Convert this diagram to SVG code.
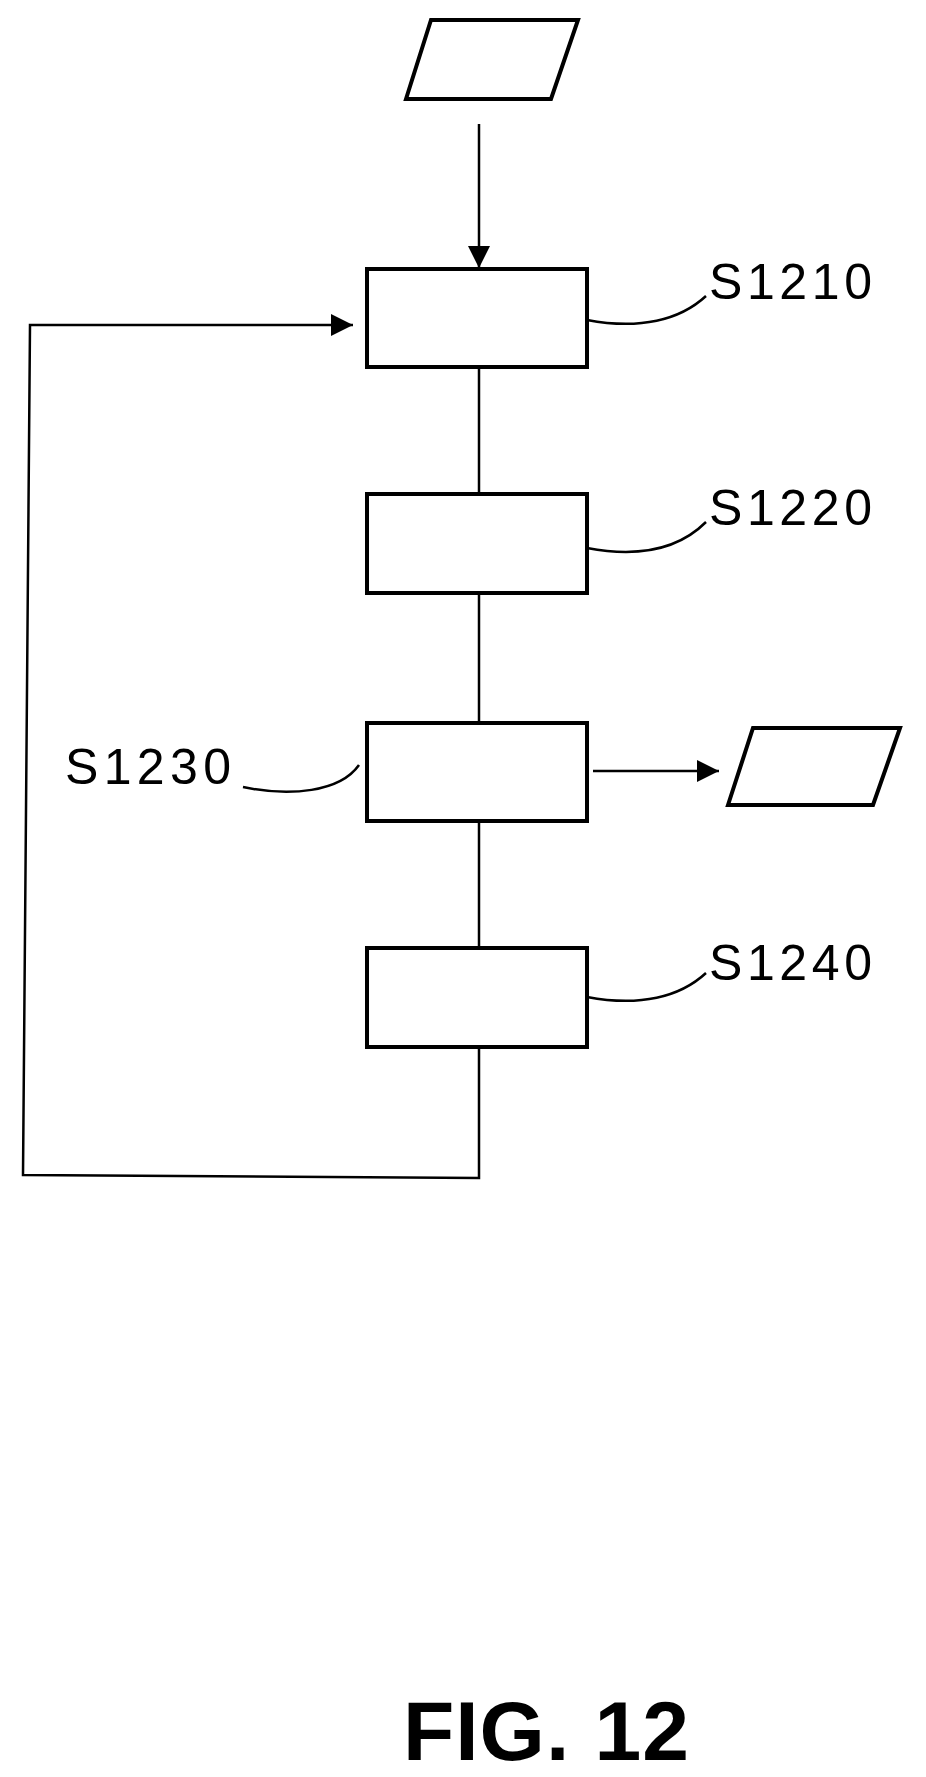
<svg xmlns="http://www.w3.org/2000/svg" width="926" height="1777" viewBox="0 0 926 1777">
<style>
.b{fill:#fff;stroke:#000;stroke-width:4}
.l{fill:none;stroke:#000;stroke-width:2.5}
.t{font-family:"Liberation Sans",Arial,sans-serif;font-size:50px;fill:#000}
</style>
<defs>
<marker id="A" viewBox="0 0 10 10" refX="10" refY="5" markerWidth="26" markerHeight="22" markerUnits="userSpaceOnUse" orient="auto"><path d="M0,0L10,5L0,10z"/></marker></defs>
<rect width="926" height="1777" fill="#fff"/>
<g id="connectors">
<line class="l" x1="479" y1="124" x2="479" y2="268" marker-end="url(#A)"/>
<line class="l" x1="479" y1="367" x2="479" y2="494"/>
<line class="l" x1="479" y1="593" x2="479" y2="723"/>
<line class="l" x1="479" y1="821" x2="479" y2="948"/>
<polyline class="l" points="479,1047 479,1178 23,1175 30,325 353,325" marker-end="url(#A)"/>
<line class="l" x1="593" y1="771" x2="719" y2="771" marker-end="url(#A)"/>
<path class="l" d="M587,320 C640,330 680,320 706,296"/>
<path class="l" d="M587,548 C640,558 680,548 706,522"/>
<path class="l" d="M587,997 C640,1007 680,997 706,973"/>
<path class="l" d="M243,787 C290,797 340,792 359,765"/>
</g>
<g id="in"><polygon class="b" points="406,99 431,20 578,20 551,99"/></g>
<g id="s1210"><rect class="b" x="367" y="269" width="220" height="98"/><text class="t" x="709" y="299" textLength="163">S1210</text></g>
<g id="s1220"><rect class="b" x="367" y="494" width="220" height="99"/><text class="t" x="709" y="525" textLength="163">S1220</text></g>
<g id="s1230"><rect class="b" x="367" y="723" width="220" height="98"/><text class="t" x="65" y="784" textLength="166">S1230</text></g>
<g id="out"><polygon class="b" points="728,805 753,728 900,728 873,805"/></g>
<g id="s1240"><rect class="b" x="367" y="948" width="220" height="99"/><text class="t" x="709" y="980" textLength="163">S1240</text></g>
<text x="403" y="1760" font-family="Liberation Sans,Arial,sans-serif" font-weight="bold" font-size="84" textLength="286">FIG. 12</text>
</svg>
